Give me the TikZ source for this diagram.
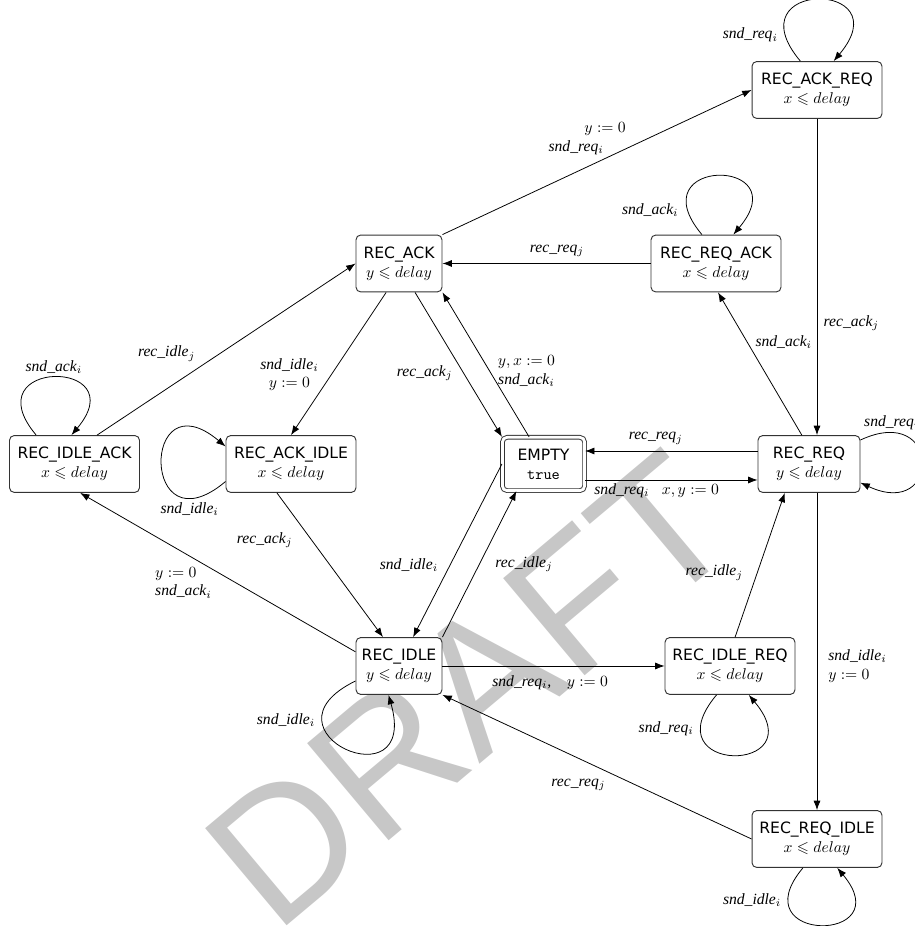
\documentclass[tikz,border=0pt]{standalone}
\usepackage{amssymb}
\usepackage{fontspec}
\newfontfamily\statefont{DejaVu Sans}
\newfontfamily\lblfont{Liberation Serif}
\newfontfamily\draftfont{Liberation Sans}
\usetikzlibrary{positioning, arrows.meta}
\definecolor{draftgray}{gray}{0.78}
\newcommand{\act}[2]{#1$_{#2}$}

\begin{document}
\begin{tikzpicture}[
    x=0.0225cm, y=0.0225cm,  % one unit = one pixel of the sketch
    % Styles
    state/.style={draw=black!80, fill=white, line width=0.6pt, rounded corners=3pt, align=center, inner sep=2pt, minimum width=1.935cm, minimum height=1.28cm, font=\statefont},
    widestate/.style={state, minimum width=2.925cm},
    emptystate/.style={state, double, double distance=1.8pt, minimum width=1.85cm, minimum height=1.2cm},
    arrow/.style={-{Latex[length=6pt, width=4.5pt]}, line width=0.5pt},
    lbl/.style={font=\lblfont\itshape, inner sep=1pt},
]
\useasboundingbox (0,0) rectangle (914,926);

% Watermark, behind everything
\node[text=draftgray, font=\draftfont\fontsize{118pt}{118pt}\selectfont, rotate=40] (draft) at (470,236) {DRAFT};

% States
\node[widestate] (ackreq) at (817,836) {REC\_ACK\_REQ\\$x\leqslant delay$};
\node[state] (ack) at (399,662.5) {REC\_ACK\\$y\leqslant delay$};
\node[widestate] (reqack) at (716,662.5) {REC\_REQ\_ACK\\$x\leqslant delay$};
\node[widestate] (idleack) at (74.5,462) {REC\_IDLE\_ACK\\$x\leqslant delay$};
\node[widestate] (ackidle) at (291,462) {REC\_ACK\_IDLE\\$x\leqslant delay$};
\node[emptystate] (empty) at (543.5,462) {EMPTY\\\texttt{true}};
\node[state, minimum width=2.295cm] (req) at (809,462) {REC\_REQ\\$y\leqslant delay$};
\node[state] (idle) at (399,260) {REC\_IDLE\\$y\leqslant delay$};
\node[widestate] (idlereq) at (730,260) {REC\_IDLE\_REQ\\$x\leqslant delay$};
\node[widestate] (reqidle) at (817,87) {REC\_REQ\_IDLE\\$x\leqslant delay$};

% Upper part
\draw[arrow] (ack.north east) -- (ackreq.west)
    node[lbl, align=left, pos=.468, above=6.5pt] {\hspace*{23pt}$y:=0$\\\act{snd\_req}{i}};
\draw[arrow] (reqack) -- (ack) node[lbl, pos=.45, above=3pt] {\act{rec\_req}{j}};
\draw[arrow] (ackreq.120) to[out=130, in=50, looseness=8.2] node[lbl, pos=.12, left=3.5pt] {\act{snd\_req}{i}} (ackreq.60);
\draw[arrow] (reqack.116) to[out=130, in=50, looseness=8.3] node[lbl, pos=.12, left=4.5pt] {\act{snd\_ack}{i}} (reqack.59);
\draw[arrow] (ackreq.south) -- (ackreq.south |- req.north) node[lbl, pos=.645, right=3pt] {\act{rec\_ack}{j}};
\draw[arrow] (req.104) -- (reqack.274) node[lbl, pos=.65, right=4pt] {\act{snd\_ack}{i}};

% Around REC_REQ
\draw[arrow] (req.25) to[out=25, in=335, looseness=5.4] node[lbl, pos=.15, above=.5pt] {\act{snd\_req}{i}} (req.340);
\draw[arrow] ([yshift=.2925cm]req.west) -- ([yshift=.2925cm]empty.east) node[lbl, pos=.59, above=3pt] {\act{rec\_req}{j}};
\draw[arrow] ([yshift=-.36cm]empty.east) -- ([yshift=-.36cm]req.west) node[lbl, pos=.415, below=1pt] {\act{snd\_req}{i}\hspace{8pt}$x, y:=0$};
\draw[arrow] (req.south -| reqidle.north) -- (reqidle.north) node[lbl, align=left, pos=.546, right=6pt] {\act{snd\_idle}{i}\\$y:=0$};

% Lower right
\draw[arrow] (reqidle.244) to[out=230, in=310, looseness=7.4] node[lbl, pos=.17, left=3pt] {\act{snd\_idle}{i}} (reqidle.305);
\draw[arrow] (reqidle.west) -- (idle.south east) node[lbl, pos=.56, below=12pt] {\act{rec\_req}{j}};
\draw[arrow] (idle.east) -- (idle.east -| idlereq.west) node[lbl, pos=.485, below=5pt] {\act{snd\_req}{i},\hspace{10pt}$y:=0$};
\draw[arrow] (idlereq.245) to[out=230, in=310, looseness=8.3] node[lbl, pos=.17, left=3pt] {\act{snd\_req}{i}} (idlereq.303);
\draw[arrow] (idlereq.80) -- (req.230) node[lbl, pos=.448, left=8pt] {\act{rec\_idle}{j}};

% Between REC_IDLE and EMPTY
\draw[arrow] (idle.north east) -- (empty.225) node[lbl, pos=.5, right=9pt] {\act{rec\_idle}{j}};
\draw[arrow] (empty.west) -- (idle.64) node[lbl, pos=.584, left=6.5pt] {\act{snd\_idle}{i}};
\draw[arrow] (ackidle.244) -- (idle.119) node[lbl, pos=.326, left=11pt] {\act{rec\_ack}{j}};
\draw[arrow] (idle.162) -- (idleack.281) node[lbl, align=left, pos=.625, below=8pt] {$y:=0$\\\act{snd\_ack}{i}};
\draw[arrow] (idle.199) to[out=206, in=286, looseness=8.2] node[lbl, pos=.25, left=3pt] {\act{snd\_idle}{i}} (idle.250);

% Left part
\draw[arrow] (idleack.52) -- (ack.west) node[lbl, pos=.4, above left=3pt] {\act{rec\_idle}{j}};
\draw[arrow] (idleack.143) to[out=130, in=50, looseness=7.3] node[lbl, pos=.5, above=1pt] {\act{snd\_ack}{i}} (idleack.96);
\draw[arrow] (ack.246) -- (ackidle.north) node[lbl, align=center, pos=.576, left=7pt] {\act{snd\_idle}{i}\\$y:=0$};
\draw[arrow] (ackidle.195) to[out=220, in=140, looseness=8.1] node[lbl, pos=.17, below=1pt] {\act{snd\_idle}{i}} (ackidle.165);

% Between REC_ACK and EMPTY
\draw[arrow] (ack.299) -- (empty.north west) node[lbl, pos=.56, left=6pt] {\act{rec\_ack}{j}};
\draw[arrow] (empty.118) -- (ack.south east) node[lbl, align=center, pos=.455, right=4pt] {$y, x:=0$\\\act{snd\_ack}{i}};

\end{tikzpicture}
\end{document}
